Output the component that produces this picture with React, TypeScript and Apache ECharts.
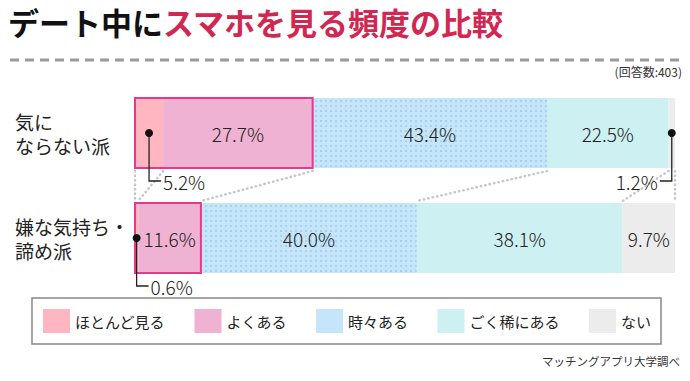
import React, { useEffect, useRef } from "react";
import * as echarts from "echarts";

const categories = ["気に\nならない派", "嫌な気持ち・\n諦め派"];
const seriesNames = ["ほとんど見る", "よくある", "時々ある", "ごく稀にある", "ない"];
const almostAlways = [5.2, 0.6];
const often = [27.7, 11.6];
const sometimes = [43.4, 40.0];
const rarely = [22.5, 38.1];
const never = [1.2, 9.7];
const seriesValues = [almostAlways, often, sometimes, rarely, never];
const colors = ["#FFB6C0", "#F0B2D2", "#C5E5FA", "#CDF0F2", "#ECECEC"];

const FONT = "'Noto Sans CJK JP', 'Noto Sans', sans-serif";
const BAR_W = 70;
const SMALL = 6;

export default function App() {
  const ref = useRef<HTMLDivElement>(null);

  useEffect(() => {
    if (!ref.current) return;
    const chart = echarts.init(ref.current, undefined, { renderer: "svg" });

    const series = seriesNames.map((name, i) => ({
      name,
      type: "bar",
      stack: "total",
      barWidth: BAR_W,
      data: seriesValues[i],
      itemStyle: {
        color: colors[i],
        decal:
          i === 2
            ? {
                symbol: "rect",
                symbolSize: 1,
                dashArrayX: [1.2, 2.8],
                dashArrayY: [1.2, 2.8],
                color: "rgba(120,170,215,0.35)",
              }
            : undefined,
      },
      label: {
        show: true,
        position: "inside",
        fontFamily: FONT,
        fontSize: 19,
        fontWeight: 300,
        color: "#222",
        formatter: (p: any) => (p.value >= SMALL ? `${Number(p.value).toFixed(1)}%` : ""),
      },
      emphasis: { disabled: true },
    }));

    chart.setOption({
      animation: false,
      textStyle: { fontFamily: FONT },
      title: {
        text: "{a|デート中に}{b|スマホを見る頻度の比較}",
        left: 8,
        top: 6,
        padding: 0,
        textStyle: {
          rich: {
            a: { fontFamily: FONT, fontSize: 31, fontWeight: "bold", color: "#111" },
            b: { fontFamily: FONT, fontSize: 31, fontWeight: "bold", color: "#D12852" },
          },
        },
      },
      legend: {
        data: seriesNames.map((n) => ({ name: n, itemStyle: { decal: "none" } })),
        left: 32,
        top: 298,
        icon: "rect",
        itemWidth: 27,
        itemHeight: 24,
        itemGap: 29.5,
        padding: [11, 10, 11, 11],
        borderColor: "#888",
        borderWidth: 1.5,
        selectedMode: false,
        textStyle: { fontFamily: FONT, fontSize: 15, color: "#222" },
      },
      grid: { left: 135, right: 15, top: 80.5, bottom: 90.5 },
      xAxis: { type: "value", min: 0, max: 100, show: false },
      yAxis: {
        type: "category",
        inverse: true,
        data: categories,
        axisLine: { show: false },
        axisTick: { show: false },
        axisLabel: {
          align: "left",
          margin: 120,
          fontFamily: FONT,
          fontSize: 19,
          lineHeight: 24,
          color: "#222",
        },
      },
      series,
    });

    const px = (v: number, c: number) =>
      chart.convertToPixel({ gridIndex: 0 }, [v, c]) as number[];

    const elements: any[] = [];
    elements.push({
      type: "line",
      shape: { x1: 10, y1: 60, x2: 681, y2: 60 },
      style: { stroke: "#9A9A9A", lineWidth: 3, lineDash: [9, 6] },
      z: 100,
    });
    elements.push({
      type: "text",
      right: 8,
      top: 65,
      style: { text: "(回答数:403)", fontFamily: FONT, fontSize: 12, fill: "#333" },
      z: 100,
    });
    elements.push({
      type: "text",
      right: 10,
      top: 355,
      style: { text: "マッチングアプリ大学調べ", fontFamily: FONT, fontSize: 11.5, fill: "#333" },
      z: 100,
    });

    const cum = categories.map((_, c) => {
      const arr = [0];
      let s = 0;
      seriesValues.forEach((vals) => {
        s += vals[c];
        arr.push(s);
      });
      return arr;
    });

    const y0 = px(0, 0)[1] + BAR_W / 2;
    const y1 = px(0, 1)[1] - BAR_W / 2;
    cum[0].forEach((v, i) => {
      const a = px(Math.min(v, 100), 0)[0];
      const b = px(Math.min(cum[1][i], 100), 1)[0];
      elements.push({
        type: "line",
        shape: { x1: a, y1: y0 + 3, x2: b, y2: y1 - 2 },
        style: { stroke: "#C8C8C8", lineWidth: 2.5, lineDash: [0.5, 4], lineCap: "round" },
        z: 90,
      });
    });

    categories.forEach((_, c) => {
      const left = px(0, c);
      const right = px(almostAlways[c] + often[c], c);
      elements.push({
        type: "rect",
        shape: { x: left[0], y: left[1] - BAR_W / 2, width: right[0] - left[0], height: BAR_W },
        style: { fill: "none", stroke: "#E8388C", lineWidth: 2 },
        z: 110,
      });
    });

    const leader = (c: number, si: number, dir: 1 | -1) => {
      const v = seriesValues[si][c];
      const center = cum[c][si] + v / 2;
      const [cx, cy] = px(center, c);
      const dy = cy + 48;
      const ex = cx + dir * 12;
      elements.push({
        type: "polyline",
        shape: { points: [[cx, cy], [cx, dy], [ex, dy]] },
        style: { stroke: "#222", lineWidth: 1.3, fill: "none" },
        z: 120,
      });
      elements.push({
        type: "circle",
        shape: { cx, cy, r: 4 },
        style: { fill: "#111" },
        z: 121,
      });
      elements.push({
        type: "text",
        x: ex + dir * 2,
        y: dy,
        style: {
          text: `${v.toFixed(1)}%`,
          fontFamily: FONT,
          fontSize: 19,
          fontWeight: 300,
          fill: "#222",
          align: dir === 1 ? "left" : "right",
          textAlign: dir === 1 ? "left" : "right",
          verticalAlign: "middle",
          textVerticalAlign: "middle",
        },
        z: 120,
      });
    };
    categories.forEach((_, c) => {
      seriesValues.forEach((vals, si) => {
        if (vals[c] < SMALL) leader(c, si, si === 0 ? 1 : -1);
      });
    });

    chart.setOption({ graphic: { elements } });

    return () => chart.dispose();
  }, []);

  return (
    <div
      ref={ref}
      style={{ position: "fixed", left: 0, top: 0, width: 690, height: 381, background: "#fff" }}
    />
  );
}
